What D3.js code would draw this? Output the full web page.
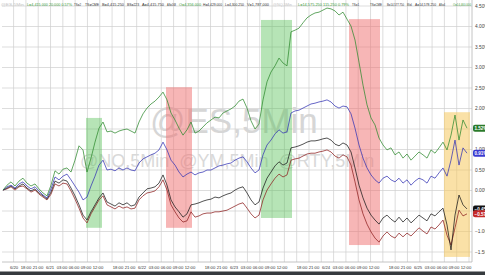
<!DOCTYPE html>
<html><head><meta charset="utf-8">
<script src="https://cdn.jsdelivr.net/npm/d3@7"></script>
<style>body{margin:0;background:#fff}svg{display:block}text{font-family:"Liberation Sans",Arial,sans-serif}</style>
</head><body><svg id="c" width="485" height="275"></svg>
<script>
// ---- data ----
const hourStart = -2.75;           // first sample, compressed session hours
const hourStep = 1;                // one sample per hour
const seriesNames = ["@NQ", "@ES", "@YM", "@RTY"];
const nqPct = [0.01,0.13,0.21,0.11,0.23,0.30,0.18,0.11,0.16,0.04,
-0.06,-0.13,0.13,0.48,0.40,0.52,0.55,0.45,0.74,1.09,
0.99,0.45,0.79,1.18,1.52,1.67,1.43,1.45,1.40,1.45,
1.48,1.50,1.45,1.40,1.67,1.87,2.01,2.11,2.18,2.28,
2.40,2.21,1.89,1.72,1.52,1.35,1.48,1.67,1.40,1.45,
1.55,1.65,1.72,1.79,1.77,1.89,1.94,1.99,2.06,2.18,
2.23,2.01,1.70,1.50,1.62,2.21,2.65,2.89,3.04,3.23,
3.11,3.04,3.87,3.91,3.96,4.09,4.21,4.28,4.33,4.35,
4.40,4.45,4.43,4.38,4.28,4.35,4.18,4.01,3.67,3.13,
2.57,2.09,1.77,1.60,1.28,1.11,0.99,1.04,0.87,0.94,
0.79,0.89,0.74,0.84,0.94,0.87,0.79,0.99,0.91,1.04,
1.18,0.99,1.35,1.84,1.23,1.72,1.52];
const esPct = [0.01,0.09,0.13,0.06,0.16,0.21,0.11,0.04,0.09,-0.01,
-0.11,-0.18,0.04,0.33,0.26,0.35,0.40,0.26,0.11,-0.04,
-0.23,-0.16,0.11,0.35,0.62,0.74,0.50,0.52,0.48,0.55,
0.50,0.55,0.50,0.48,0.67,0.77,0.82,0.87,0.91,0.99,
1.18,0.99,0.74,0.62,0.45,0.33,0.40,0.45,0.38,0.43,
0.45,0.50,0.50,0.55,0.60,0.62,0.65,0.67,0.74,0.79,
0.82,0.70,0.55,0.43,0.50,0.87,1.11,1.23,1.38,1.48,
1.40,1.43,1.89,1.94,1.96,2.01,2.06,2.11,2.13,2.16,
2.18,2.21,2.16,2.06,2.01,2.06,2.04,1.87,1.52,1.11,
0.79,0.55,0.38,0.26,0.18,0.30,0.35,0.26,0.21,0.30,
0.18,0.26,0.13,0.23,0.30,0.26,0.18,0.35,0.30,0.43,
0.55,0.35,0.74,1.23,0.62,1.04,0.91];
const ymPct = [0.01,0.06,0.11,0.04,0.11,0.16,0.06,-0.01,0.04,-0.06,
-0.13,-0.21,-0.04,0.23,0.18,0.26,0.23,0.06,-0.13,-0.35,
-0.60,-0.72,-0.52,-0.35,-0.18,-0.06,-0.28,-0.33,-0.38,-0.30,
-0.35,-0.30,-0.38,-0.35,-0.16,-0.06,0.04,0.06,0.09,0.18,
0.38,0.13,-0.23,-0.40,-0.52,-0.65,-0.57,-0.35,-0.33,-0.30,
-0.26,-0.23,-0.21,-0.16,-0.18,-0.13,-0.09,-0.06,0.01,0.06,
0.09,-0.06,-0.23,-0.35,-0.28,0.06,0.30,0.45,0.60,0.70,
0.62,0.67,1.04,1.06,1.09,1.13,1.18,1.21,1.21,1.23,
1.26,1.28,1.23,1.13,1.09,1.16,1.11,0.94,0.55,0.13,
-0.18,-0.43,-0.60,-0.72,-0.82,-0.67,-0.60,-0.70,-0.77,-0.65,
-0.77,-0.67,-0.79,-0.70,-0.60,-0.67,-0.74,-0.57,-0.62,-0.52,
-0.43,-0.84,-1.45,-0.60,-0.11,-0.35,-0.45];
const rtyPct = [0.01,0.04,0.09,0.01,0.09,0.11,0.04,-0.04,0.01,-0.09,
-0.16,-0.23,-0.09,0.16,0.11,0.18,0.16,-0.01,-0.21,-0.43,
-0.67,-0.79,-0.57,-0.40,-0.23,-0.13,-0.35,-0.40,-0.45,-0.38,
-0.43,-0.40,-0.45,-0.43,-0.23,-0.13,-0.06,-0.04,-0.01,0.09,
0.26,0.01,-0.35,-0.52,-0.67,-0.77,-0.74,-0.52,-0.65,-0.62,
-0.57,-0.55,-0.55,-0.52,-0.52,-0.50,-0.48,-0.43,-0.38,-0.33,
-0.30,-0.43,-0.57,-0.67,-0.60,-0.23,0.01,0.16,0.30,0.40,
0.33,0.38,0.74,0.77,0.79,0.84,0.89,0.91,0.91,0.94,
0.96,0.99,0.94,0.84,0.79,0.87,0.82,0.62,0.21,-0.23,
-0.57,-0.82,-1.01,-1.16,-1.26,-1.11,-1.01,-1.11,-1.16,-1.04,
-1.13,-1.04,-1.11,-1.01,-0.91,-0.99,-1.06,-0.89,-0.94,-0.84,
-0.72,-1.09,-1.33,-0.91,-0.48,-0.62,-0.57];

const xTickHours = [0,3,6,9,12,15,18,21, 26,29,32,35,38,41,44, 49,52,55,58,61,64,67,
  72,75,78,81,84,87,90, 95,98,101,104,107,110,113];
const xTickLabels = ["6/20","18:00","21:00","6/21","03:00","06:00","09:00","12:00",
  "18:00","21:00","6/22","03:00","06:00","09:00","12:00",
  "18:00","21:00","6/23","03:00","06:00","09:00","12:00",
  "18:00","21:00","6/24","03:00","06:00","09:00","12:00",
  "18:00","21:00","6/25","03:00","06:00","09:00","12:00"];
const yTickValues = [-1.5,-1,-0.5,0,0.5,1,1.5,2,2.5,3,3.5,4,4.5];

// highlighted sessions: start hour, end hour, low %, high %
const bandStart = [18, 38, 61.75, 83.75, 107.5];
const bandEnd   = [22, 44.5, 69.5, 91.5, 114];
const bandLow   = [-0.91, -0.91, -0.67, -1.33, -1.62];
const bandHigh  = [1.77, 2.52, 4.16, 4.18, 1.91];
const bandKind  = ["up","down","up","down","mixed"];

// ---- styles ----
const lineColor = {"@NQ":"#2f8a2f","@ES":"#3434b4","@YM":"#1a1a1a","@RTY":"#8e1f1f"};
const badgeColor = {"@NQ":"#2a7a2a","@ES":"#3a3ad0","@YM":"#111","@RTY":"#c42a2a"};
const bandColor = {up:"rgba(80,190,80,0.42)", down:"rgba(240,110,110,0.5)", mixed:"rgba(245,200,95,0.55)"};

const svg = d3.select("#c");
const W = 485, H = 275, plotTop = 0, plotBottom = 262, plotLeft = 2, plotRight = 472;
const x = d3.scaleLinear().domain([-3, 114.5]).range([plotLeft, plotRight]);
const y = d3.scaleLinear().domain([-1.5, 4.5]).range([252, 6]);

svg.append("rect").attr("width", W).attr("height", H).attr("fill", "#fff");

// grid
const gridHours = d3.range(-0.1, 114.5, 3.077);
svg.append("g").selectAll("line").data(gridHours).join("line")
  .attr("x1", d => x(d)).attr("x2", d => x(d)).attr("y1", plotTop).attr("y2", plotBottom)
  .attr("stroke", "#cfcfcf").attr("stroke-width", 0.7);
svg.append("g").selectAll("line").data(yTickValues).join("line")
  .attr("x1", plotLeft).attr("x2", plotRight).attr("y1", d => y(d)).attr("y2", d => y(d))
  .attr("stroke", "#cfcfcf").attr("stroke-width", 0.7);
svg.append("line").attr("x1", plotLeft).attr("x2", plotRight).attr("y1", plotBottom).attr("y2", plotBottom)
  .attr("stroke", "#b5b5b5").attr("stroke-width", 0.8);
svg.append("line").attr("x1", plotRight).attr("x2", plotRight).attr("y1", plotTop).attr("y2", plotBottom)
  .attr("stroke", "#b5b5b5").attr("stroke-width", 0.8);

// watermarks
svg.append("text").attr("x", 150).attr("y", 133).attr("font-size", 35)
  .attr("fill", "#d6d6d6").text("@ES,5Min");
svg.append("text").attr("x", 80).attr("y", 167).attr("font-size", 18)
  .attr("fill", "#d9d9d9").style("white-space", "pre").text("@NQ,5Min  @YM,5Min  @RTY,5Min");

// bands
svg.append("g").selectAll("rect").data(bandStart.map((s, i) => i)).join("rect")
  .attr("x", i => x(bandStart[i])).attr("width", i => x(bandEnd[i]) - x(bandStart[i]))
  .attr("y", i => y(bandHigh[i])).attr("height", i => y(bandLow[i]) - y(bandHigh[i]))
  .attr("fill", i => bandColor[bandKind[i]]);

// lines
const seriesData = {"@NQ": nqPct, "@ES": esPct, "@YM": ymPct, "@RTY": rtyPct};
const line = d3.line().x((d, i) => x(hourStart + i * hourStep)).y(d => y(d));
["@RTY","@YM","@ES","@NQ"].forEach(name => {
  svg.append("path").datum(seriesData[name]).attr("d", line)
    .attr("fill", "none").attr("stroke", lineColor[name]).attr("stroke-width", 0.75)
    .attr("stroke-linejoin", "round");
});

// y axis labels (right), cut by the window edge as in the reference
svg.append("g").selectAll("text").data(yTickValues).join("text")
  .attr("x", 475).attr("y", d => y(d) + 1.8).attr("font-size", 4.8).attr("fill", "#444")
  .text(d => d3.format(".2f")(d) + "%");

// end badges
const badgeOrder = ["@NQ","@ES","@YM","@RTY"];
badgeOrder.forEach(name => {
  const v = seriesData[name][seriesData[name].length - 1];
  const g = svg.append("g");
  g.append("rect").attr("x", 473).attr("y", y(v) - 3.5).attr("width", 14).attr("height", 7).attr("rx", 2)
    .attr("fill", badgeColor[name]);
  g.append("text").attr("x", 474.5).attr("y", y(v) + 1.7).attr("font-size", 4.5).attr("fill", "#fff")
    .attr("font-weight", "bold").text(d3.format(".2f")(v) + "%");
});

// x axis labels
svg.append("g").selectAll("text").data(xTickHours).join("text")
  .attr("x", d => x(d)).attr("y", 268.5).attr("text-anchor", "middle")
  .attr("font-size", 4.2).attr("fill", "#333")
  .text((d, i) => xTickLabels[i]);
svg.append("rect").attr("x", 0).attr("y", 271.5).attr("width", W).attr("height", 3.5).attr("fill", "#363a3e");

// header line
const header = [
  ["@ES,5Min", "#c4c4c4", 1, 24], ["L=4,415.000 20.000 0.57%", "#3a9a3a", 27, 72],
  ["TS=2", "#333", 74, 81], ["TS=CME", "#333", 85, 99], ["B=4,415.250", "#333", 102, 124],
  ["BS=223", "#333", 127, 139], ["A=4,415.750", "#333", 142, 164], ["AS=168", "#333", 167, 176],
  ["O=4,356.000", "#3a9a3a", 179, 201], ["H=4,429.000", "#333", 203, 222], ["L=4,300.250", "#333", 225, 244],
  ["V=1,787,000", "#333", 247, 269], ["@NQ,5Min", "#c4c4c4", 273, 292],
  ["L=14,575.250 115.250 0.79%", "#3a9a3a", 298, 349], ["TS=1", "#333", 352, 359],
  ["TS=CME", "#333", 370, 382], ["B=14,577.750", "#333", 387, 404], ["BS=6", "#333", 407, 412],
  ["A=14,578.250", "#333", 415, 436], ["AS=4", "#333", 439, 445], ["O=14,460.000", "#3a9a3a", 453, 471]
];
svg.append("g").selectAll("text").data(header).join("text")
  .attr("x", d => d[2]).attr("y", 5.5).attr("font-size", 4.3).attr("fill", d => d[1])
  .attr("textLength", d => d[3] - d[2]).attr("lengthAdjust", "spacingAndGlyphs")
  .text(d => d[0]);
</script></body></html>
